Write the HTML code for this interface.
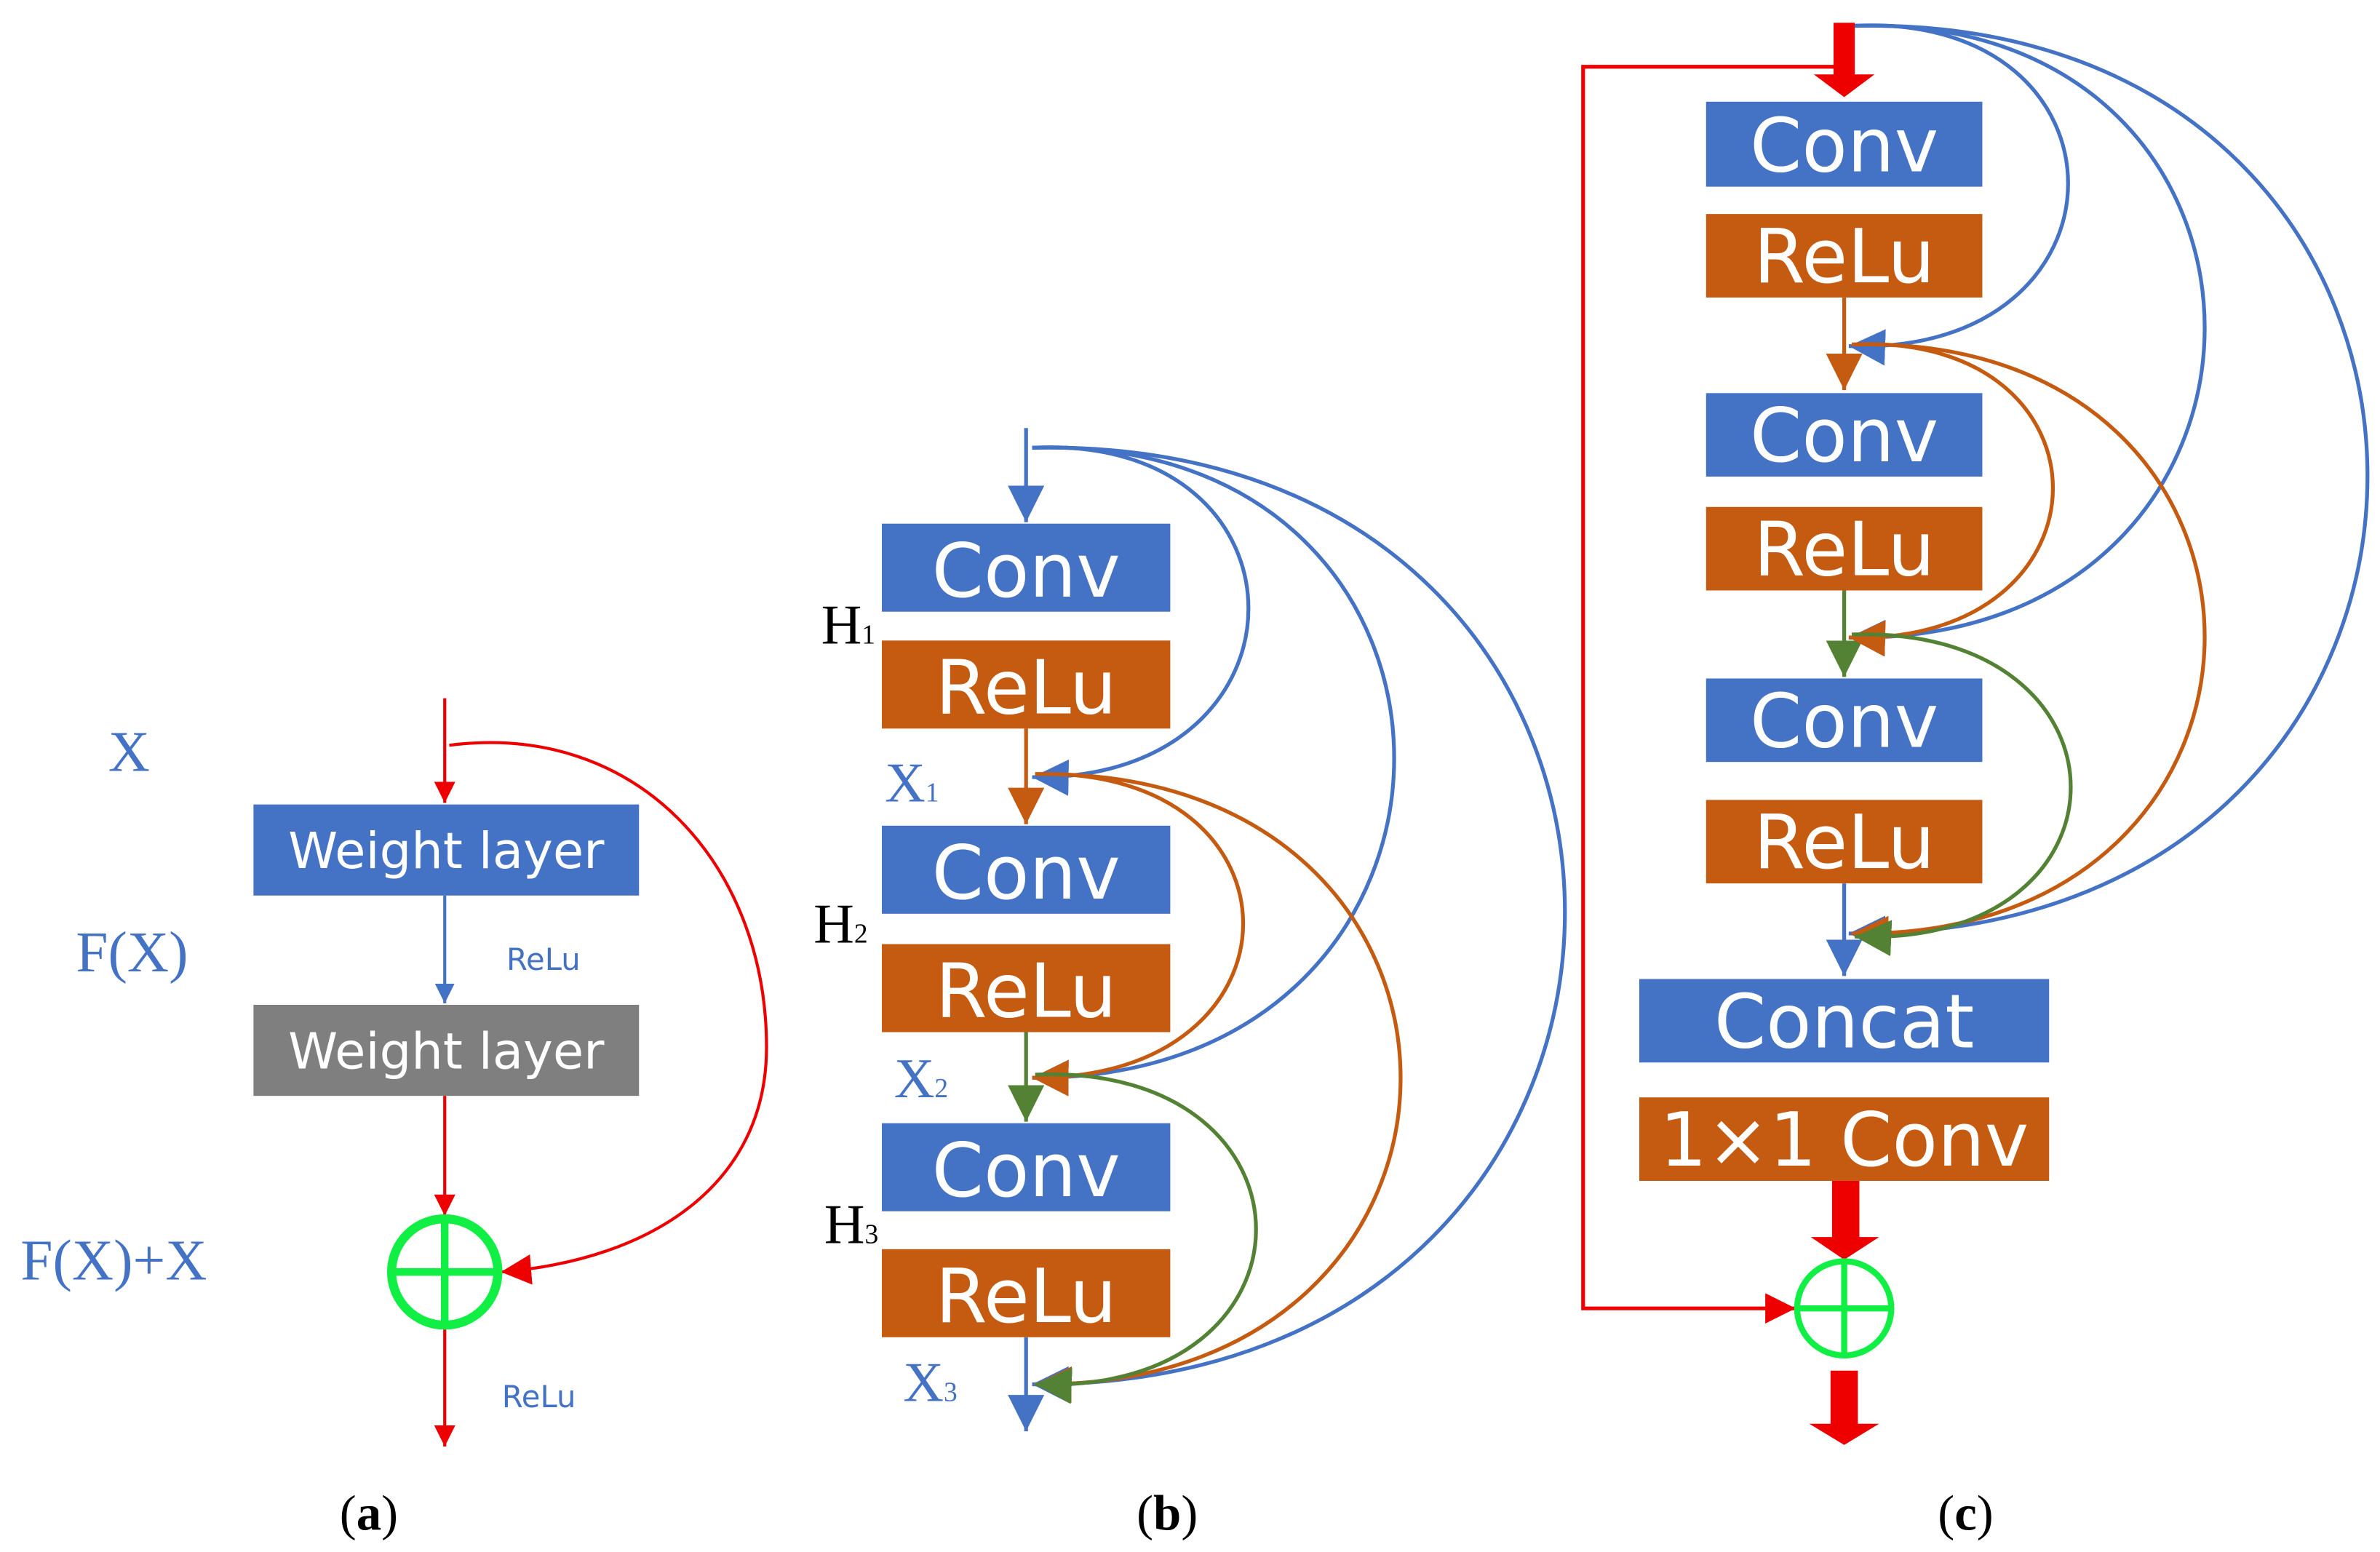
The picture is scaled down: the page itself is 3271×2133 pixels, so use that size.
<!DOCTYPE html>
<html><head><meta charset="utf-8"><style>
html,body{margin:0;padding:0;background:#fff;}
svg{display:block;}
.bt{font-family:"DejaVu Sans","Liberation Sans",sans-serif;fill:#fff;text-anchor:middle;}
.ser{font-family:"Liberation Serif",serif;}
</style></head><body>
<svg width="3271" height="2133" viewBox="0 0 1568 1022.5" preserveAspectRatio="none" xmlns="http://www.w3.org/2000/svg">
<defs>
<marker id="mr" viewBox="0 0 10 10" refX="10" refY="5" markerWidth="14" markerHeight="14" markerUnits="userSpaceOnUse" orient="auto"><path d="M0,0L10,5L0,10z" fill="#ee0000"/></marker>
<marker id="mrb" viewBox="0 0 10 10" refX="10" refY="5" markerWidth="20" markerHeight="20" markerUnits="userSpaceOnUse" orient="auto"><path d="M0,0L10,5L0,10z" fill="#ee0000"/></marker>
<marker id="mb" viewBox="0 0 10 10" refX="10" refY="5" markerWidth="13" markerHeight="13" markerUnits="userSpaceOnUse" orient="auto"><path d="M0,0L10,5L0,10z" fill="#4472c4"/></marker>
<marker id="mB" viewBox="0 0 10 10" refX="10" refY="5" markerWidth="24" markerHeight="24" markerUnits="userSpaceOnUse" orient="auto"><path d="M0,0L10,5L0,10z" fill="#4472c4"/></marker>
<marker id="mO" viewBox="0 0 10 10" refX="10" refY="5" markerWidth="24" markerHeight="24" markerUnits="userSpaceOnUse" orient="auto"><path d="M0,0L10,5L0,10z" fill="#c55a11"/></marker>
<marker id="mG" viewBox="0 0 10 10" refX="10" refY="5" markerWidth="24" markerHeight="24" markerUnits="userSpaceOnUse" orient="auto"><path d="M0,0L10,5L0,10z" fill="#548235"/></marker>
</defs>

<!-- Panel (a) -->
<g class="ser" fill="#4472c4" font-size="38">
<text x="85" y="508" text-anchor="middle">X</text>
<text x="87" y="640" text-anchor="middle">F(X)</text>
<text x="75" y="843" text-anchor="middle">F(X)+X</text>
</g>
<line x1="293" y1="460" x2="293" y2="529" stroke="#ee0000" stroke-width="2" marker-end="url(#mr)"/>
<rect x="167" y="530" width="254" height="60" fill="#4472c4"/>
<text class="bt" x="294" y="572" font-size="33">Weight layer</text>
<line x1="293" y1="590" x2="293" y2="661" stroke="#4472c4" stroke-width="2" marker-end="url(#mb)"/>
<text x="358" y="639" font-family="DejaVu Sans,sans-serif" font-size="20" fill="#4472c4" text-anchor="middle">ReLu</text>
<rect x="167" y="662" width="254" height="60" fill="#7f7f7f"/>
<text class="bt" x="294" y="704" font-size="33">Weight layer</text>
<line x1="293" y1="722" x2="293" y2="801" stroke="#ee0000" stroke-width="2" marker-end="url(#mr)"/>
<path d="M296,491 C420,475 505,570 505,690 C505,780 430,830 330,838" fill="none" stroke="#ee0000" stroke-width="2" marker-end="url(#mrb)"/>
<circle cx="293" cy="838" r="35" fill="none" stroke="#11ee44" stroke-width="6"/>
<line x1="293" y1="803" x2="293" y2="873" stroke="#11ee44" stroke-width="5"/>
<line x1="258" y1="838" x2="328" y2="838" stroke="#11ee44" stroke-width="5"/>
<line x1="293" y1="876" x2="293" y2="953" stroke="#ee0000" stroke-width="2" marker-end="url(#mr)"/>
<text x="355" y="927" font-family="DejaVu Sans,sans-serif" font-size="20" fill="#4472c4" text-anchor="middle">ReLu</text>
<text class="ser" x="243" y="1008" font-size="33" text-anchor="middle">(<tspan font-weight="bold">a</tspan>)</text>

<!-- Panel (b) -->
<line x1="676" y1="282" x2="676" y2="344" stroke="#4472c4" stroke-width="2.5" marker-end="url(#mB)"/>
<rect x="581" y="345" width="190" height="58" fill="#4472c4"/>
<text class="bt" x="676" y="393" font-size="49">Conv</text>
<rect x="581" y="422" width="190" height="58" fill="#c55a11"/>
<text class="bt" x="676" y="470" font-size="49">ReLu</text>
<line x1="676" y1="480" x2="676" y2="543" stroke="#c55a11" stroke-width="2.5" marker-end="url(#mO)"/>
<rect x="581" y="544" width="190" height="58" fill="#4472c4"/>
<text class="bt" x="676" y="592" font-size="49">Conv</text>
<rect x="581" y="622" width="190" height="58" fill="#c55a11"/>
<text class="bt" x="676" y="670" font-size="49">ReLu</text>
<line x1="676" y1="680" x2="676" y2="739" stroke="#548235" stroke-width="2.5" marker-end="url(#mG)"/>
<rect x="581" y="740" width="190" height="58" fill="#4472c4"/>
<text class="bt" x="676" y="788" font-size="49">Conv</text>
<rect x="581" y="823" width="190" height="58" fill="#c55a11"/>
<text class="bt" x="676" y="871" font-size="49">ReLu</text>
<line x1="676" y1="881" x2="676" y2="943" stroke="#4472c4" stroke-width="2.5" marker-end="url(#mB)"/>
<g class="ser" font-size="37" fill="#000">
<text x="541" y="424">H<tspan font-size="18">1</tspan></text>
<text x="536" y="621">H<tspan font-size="18">2</tspan></text>
<text x="543" y="819">H<tspan font-size="18">3</tspan></text>
</g>
<g class="ser" font-size="37" fill="#4472c4">
<text x="583" y="528">X<tspan font-size="18">1</tspan></text>
<text x="589" y="723">X<tspan font-size="18">2</tspan></text>
<text x="595" y="923">X<tspan font-size="18">3</tspan></text>
</g>
<g fill="none" stroke-width="2.5">
<path d="M680,295 C870,285 870,515 680,512" stroke="#4472c4" marker-end="url(#mB)"/>
<path d="M680,295 C998,285 998,712 680,710" stroke="#4472c4" marker-end="url(#mB)"/>
<path d="M680,295 C1148,285 1148,915 680,912" stroke="#4472c4" marker-end="url(#mB)"/>
<path d="M682,510 C865,505 865,712 680,710" stroke="#c55a11" marker-end="url(#mO)"/>
<path d="M682,510 C1003,505 1003,915 682,912" stroke="#c55a11" marker-end="url(#mO)"/>
<path d="M682,708 C876,700 876,920 682,912" stroke="#548235" marker-end="url(#mG)"/>
</g>
<text class="ser" x="769" y="1008" font-size="33" text-anchor="middle">(<tspan font-weight="bold">b</tspan>)</text>

<!-- Panel (c) -->
<rect x="1208" y="15" width="14" height="36" fill="#ee0000"/>
<path d="M1195,49 L1235,49 L1215,64 z" fill="#ee0000"/>
<polyline points="1208,44 1043,44 1043,862 1183,862" fill="none" stroke="#ee0000" stroke-width="2.5" marker-end="url(#mrb)"/>
<rect x="1124" y="67" width="182" height="56" fill="#4472c4"/>
<text class="bt" x="1215" y="113" font-size="49">Conv</text>
<rect x="1124" y="141" width="182" height="55" fill="#c55a11"/>
<text class="bt" x="1215" y="186" font-size="49">ReLu</text>
<line x1="1215" y1="196" x2="1215" y2="257" stroke="#c55a11" stroke-width="2.5" marker-end="url(#mO)"/>
<rect x="1124" y="259" width="182" height="55" fill="#4472c4"/>
<text class="bt" x="1215" y="304" font-size="49">Conv</text>
<rect x="1124" y="334" width="182" height="55" fill="#c55a11"/>
<text class="bt" x="1215" y="379" font-size="49">ReLu</text>
<line x1="1215" y1="389" x2="1215" y2="446" stroke="#548235" stroke-width="2.5" marker-end="url(#mG)"/>
<rect x="1124" y="447" width="182" height="55" fill="#4472c4"/>
<text class="bt" x="1215" y="492" font-size="49">Conv</text>
<rect x="1124" y="527" width="182" height="55" fill="#c55a11"/>
<text class="bt" x="1215" y="572" font-size="49">ReLu</text>
<line x1="1215" y1="582" x2="1215" y2="643" stroke="#4472c4" stroke-width="2.5" marker-end="url(#mB)"/>
<rect x="1080" y="645" width="270" height="55" fill="#4472c4"/>
<text class="bt" x="1215" y="690" font-size="49">Concat</text>
<rect x="1080" y="723" width="270" height="55" fill="#c55a11"/>
<text class="bt" x="1215" y="768" font-size="49">1×1 Conv</text>
<rect x="1207" y="778" width="18" height="38" fill="#ee0000"/>
<path d="M1193,815 L1238,815 L1215,830 z" fill="#ee0000"/>
<circle cx="1215" cy="862" r="31" fill="none" stroke="#11ee44" stroke-width="4"/>
<line x1="1215" y1="831" x2="1215" y2="893" stroke="#11ee44" stroke-width="4"/>
<line x1="1184" y1="862" x2="1246" y2="862" stroke="#11ee44" stroke-width="4"/>
<rect x="1206" y="903" width="18" height="36" fill="#ee0000"/>
<path d="M1192,938 L1238,938 L1215,952 z" fill="#ee0000"/>
<g fill="none" stroke-width="2.5">
<path d="M1222,17 C1410,8 1410,235 1218,228" stroke="#4472c4" marker-end="url(#mB)"/>
<path d="M1222,17 C1530,8 1530,425 1218,420" stroke="#4472c4" marker-end="url(#mB)"/>
<path d="M1222,17 C1673,8 1673,620 1218,615" stroke="#4472c4" marker-end="url(#mB)"/>
<path d="M1220,227 C1397,218 1397,425 1218,420" stroke="#c55a11" marker-end="url(#mO)"/>
<path d="M1220,227 C1530,218 1530,620 1220,615" stroke="#c55a11" marker-end="url(#mO)"/>
<path d="M1220,418 C1412,412 1412,625 1222,617" stroke="#548235" marker-end="url(#mG)"/>
</g>
<text class="ser" x="1295" y="1008" font-size="33" text-anchor="middle">(<tspan font-weight="bold">c</tspan>)</text>
</svg>
</body></html>
